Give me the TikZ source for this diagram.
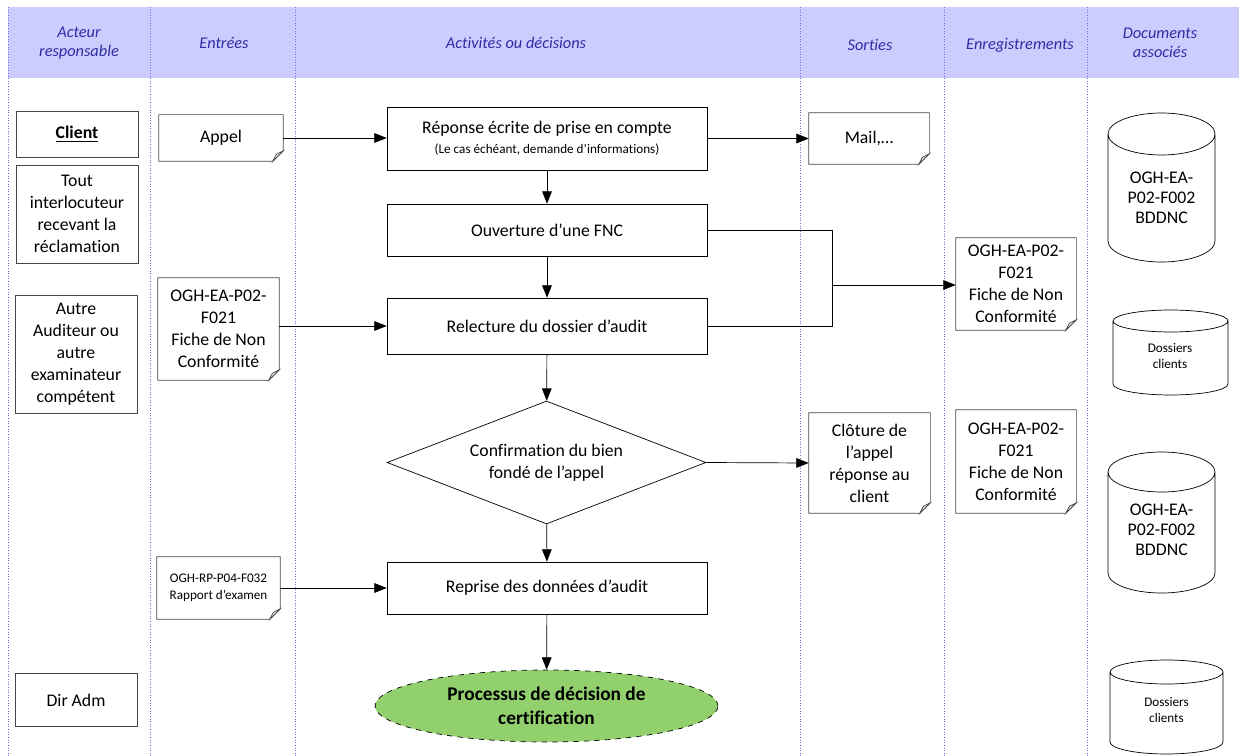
\documentclass[tikz,border=0pt]{standalone}
\usepackage{fontspec}
\setmainfont[Ligatures=NoCommon]{Carlito}
\usetikzlibrary{arrows.meta,shapes.geometric,calc}
\definecolor{hdrfill}{RGB}{204,204,255}
\definecolor{hdrtext}{RGB}{45,45,165}
\definecolor{divline}{RGB}{110,110,210}
\definecolor{ellfill}{RGB}{146,208,110}
\definecolor{boxline}{RGB}{70,70,70}
\newcommand\docout[1]{%
  \draw[boxline,thin] (#1.north west) -- (#1.north east) -- ([yshift=6pt]#1.south east) -- ([xshift=-6pt]#1.south east) -- (#1.south west) -- cycle;
  \draw[boxline,thin,fill=gray!20] ([yshift=6pt]#1.south east) -- ([xshift=-6pt]#1.south east) .. controls ([xshift=-5pt,yshift=2pt]#1.south east) .. ([xshift=-4pt,yshift=4pt]#1.south east) -- cycle;}
\tikzset{
  bodyfont/.style={font=\fontsize{10.1}{12.5}\selectfont},
  actor/.style={draw=boxline,thin,bodyfont,align=center,inner sep=2pt,minimum width=2.44cm},
  docbox/.style={bodyfont,align=center,inner sep=1pt},
  act/.style={draw=black,thin,bodyfont,align=center,minimum width=6.4cm},
  hdr/.style={font=\fontsize{9.3}{11}\selectfont\itshape,text=hdrtext,align=center},
  arr/.style={-{Triangle[length=7pt,width=5.5pt]},thin},
  lin/.style={thin},
  divider/.style={divline,densely dotted,line width=0.5pt},
  cylline/.style={draw=black,thin},
  cyltext/.style={font=\fontsize{10.1}{11.5}\selectfont,align=center},
  small/.style={font=\fontsize{7.5}{9.5}\selectfont,align=center},
}
\begin{document}
\begin{tikzpicture}[x=0.02cm,y=-0.02cm]
\useasboundingbox (0,0) rectangle (1239,756);
% header band
\fill[hdrfill] (8,7) rectangle (1239,78);
\foreach \xx in {8,150,295,800,944,1087}{\draw[divider] (\xx,7) -- (\xx,756);}
\node[hdr] (h1) at (79,43) {Acteur\\responsable};
\node[hdr] (h2) at (224,43) {Entrées};
\node[hdr] (h3) at (516,43) {Activités ou décisions};
\node[hdr] (h4) at (870,45) {Sorties};
\node[hdr] (h5) at (1020,45) {Enregistrements};
\node[hdr] (h6) at (1160,43) {Documents\\associés};
% actors
\node[actor,minimum height=0.92cm] (client) at (77,134) {\underline{\textbf{Client}}};
\node[actor,minimum height=1.96cm] (tout) at (77,214) {Tout\\interlocuteur\\recevant la\\réclamation};
\node[actor,minimum height=2.36cm] (autre) at (76,354) {Autre\\Auditeur ou\\autre\\examinateur\\compétent};
\node[actor,minimum height=1.06cm] (dir) at (76,700) {Dir Adm};
% inputs
\node[docbox,minimum width=2.48cm,minimum height=0.92cm] (appel) at (221,138) {Appel};
\docout{appel}
\node[docbox,minimum width=2.42cm,minimum height=2.04cm] (fnc1) at (218.5,329) {OGH-EA-P02-\\F021\\Fiche de Non\\Conformité};
\docout{fnc1}
\node[docbox,small,minimum width=2.46cm,minimum height=1.24cm] (rp) at (218.5,588) {OGH-RP-P04-F032\\Rapport d’examen};
\docout{rp}
% activities
\node[act,minimum height=1.26cm] (rep) at (547,138.5) {Réponse écrite de prise en compte\\[-1pt]{\fontsize{7.5}{9}\selectfont(Le cas échéant, demande d’informations)}};
\node[act,minimum height=1.04cm] (ouv) at (547,230) {Ouverture d’une FNC};
\node[act,minimum height=1.12cm] (rel) at (547,326) {Relecture du dossier d’audit};
\node[draw=black,thin,diamond,aspect=2.6,inner sep=0pt,minimum width=6.38cm,minimum height=2.46cm,bodyfont,align=center] (dia) at (546.5,462.5) {Confirmation du bien\\fondé de l’appel};
\node[act,minimum height=1.04cm] (repr) at (547,588) {Reprise des données d’audit};
\node[ellipse,draw=black,thin,dashed,fill=ellfill,minimum width=6.86cm,minimum height=1.44cm,align=center,font=\fontsize{11}{13.5}\selectfont\bfseries,inner sep=0pt] (proc) at (546.5,706) {Processus de décision de\\certification};
% outputs
\node[docbox,minimum width=2.4cm,minimum height=1.02cm] (mail) at (869,138.5) {Mail,…};
\docout{mail}
\node[docbox,minimum width=2.42cm,minimum height=2.0cm] (clot) at (869.5,463) {Clôture de\\l’appel\\réponse au\\client};
\docout{clot}
% records
\node[docbox,minimum width=2.4cm,minimum height=1.84cm] (enr1) at (1016,284) {OGH-EA-P02-\\F021\\Fiche de Non\\Conformité};
\docout{enr1}
\node[docbox,minimum width=2.4cm,minimum height=2.06cm] (enr2) at (1016,461.5) {OGH-EA-P02-\\F021\\Fiche de Non\\Conformité};
\docout{enr2}
% cylinders
\draw[cylline] (1108,134) -- (1108,241) arc[start angle=180,end angle=360,x radius=1.07cm,y radius=0.42cm] -- (1215,134) arc[start angle=0,end angle=360,x radius=1.07cm,y radius=0.42cm];
\node[cyltext] (c1) at (1161.5,198) {OGH-EA-\\P02-F002\\BDDNC};
\draw[cylline] (1113,321) -- (1113,384) arc[start angle=180,end angle=360,x radius=1.15cm,y radius=0.22cm] -- (1228,321) arc[start angle=0,end angle=360,x radius=1.15cm,y radius=0.22cm];
\node[small] (c2) at (1170,356) {Dossiers\\clients};
\draw[cylline] (1108,472) -- (1108,573) arc[start angle=180,end angle=360,x radius=1.07cm,y radius=0.4cm] -- (1215,472) arc[start angle=0,end angle=360,x radius=1.07cm,y radius=0.4cm];
\node[cyltext] (c3) at (1161.5,530) {OGH-EA-\\P02-F002\\BDDNC};
\draw[cylline] (1110,672) -- (1110,742) arc[start angle=180,end angle=360,x radius=1.13cm,y radius=0.24cm] -- (1223,672) arc[start angle=0,end angle=360,x radius=1.13cm,y radius=0.24cm];
\node[small] (c4) at (1166.5,710) {Dossiers\\clients};
% connectors
\draw[arr] (appel.east) -- (rep.west|-appel.east);
\draw[arr] (rep.east) -- (mail.west);
\draw[arr] (rep) -- (ouv);
\draw[arr] (ouv) -- (rel);
\draw[arr] (rel) -- (dia);
\draw[arr] (dia) -- (repr);
\draw[arr] (repr) -- (proc);
\draw[arr] (fnc1.east|-rel.west) -- (rel.west);
\draw[arr] (rp.east) -- (repr.west);
\draw[arr] (dia.east) -- (clot.west);
\coordinate (jt) at (832,230);
\coordinate (jb) at (832,326);
\coordinate (jm) at (832,285);
\draw[lin] (ouv.east) -- (jt) -- (jb) -- (rel.east);
\draw[arr] (jm) -- (enr1.west|-jm);
\end{tikzpicture}
\end{document}
